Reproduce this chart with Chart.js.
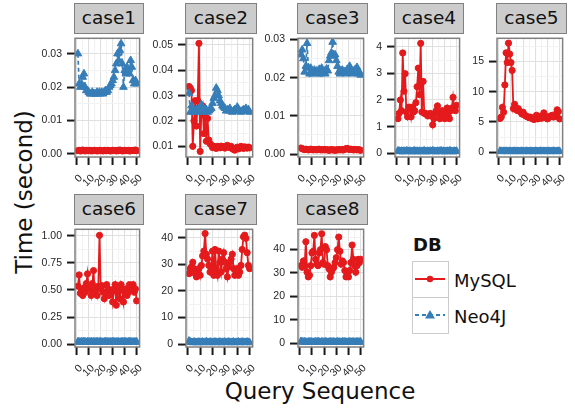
<!DOCTYPE html>
<html>
<head>
<meta charset="utf-8">
<script src="https://cdn.jsdelivr.net/npm/chart.js@4.4.1/dist/chart.umd.min.js"></script>
<style>
    body { margin: 0; width: 575px; height: 412px; position: relative; overflow: hidden; background: #fff; font-family: "DejaVu Sans", sans-serif; }
    canvas { position: absolute; }
    .strip { position: absolute; box-sizing: border-box; background: #cccccc; border: 1.5px solid #808080; text-align: center; font-size: 18.5px; color: #111; }
    .axis-title { position: absolute; font-size: 23px; color: #111; white-space: nowrap; transform: translate(-50%, -50%); }
    .legend-title { position: absolute; left: 413px; top: 234px; font-size: 18px; font-weight: bold; color: #111; }
    .legend-key { position: absolute; left: 412px; width: 37px; height: 37px; box-sizing: border-box; border: 1.5px solid #cccccc; background: #fff; }
    .legend-label { position: absolute; left: 454px; font-size: 18px; color: #111; transform: translateY(-50%); }
</style>
</head>
<body>
<div class="axis-title" style="left:24px; top:192px; transform: translate(-50%, -50%) rotate(-90deg);">Time (second)</div>
<div class="axis-title" style="left:320px; top:391px;">Query Sequence</div>

<div class="legend-title">DB</div>
<div class="legend-key" style="top:261px;">
    <svg width="34" height="34"><line x1="2" y1="17" x2="32" y2="17" stroke="#e41a1c" stroke-width="2"/><circle cx="17" cy="17" r="3.2" fill="#e41a1c"/></svg>
</div>
<div class="legend-key" style="top:297px;">
    <svg width="34" height="34"><line x1="2" y1="17" x2="32" y2="17" stroke="#377eb8" stroke-width="2" stroke-dasharray="4,3"/><polygon points="17,12 22,20.5 12,20.5" fill="#377eb8"/></svg>
</div>
<div class="legend-label" style="top:280px;">MySQL</div>
<div class="legend-label" style="top:316px;">Neo4J</div>

<script>
// Facets and series
const cases = ['case1', 'case2', 'case3', 'case4', 'case5', 'case6', 'case7', 'case8'];
const querySeq = [1, 2, 3, 4, 5, 6, 7, 8, 9, 10, 11, 12, 13, 14, 15, 16, 17, 18, 19, 20,
    21, 22, 23, 24, 25, 26, 27, 28, 29, 30, 31, 32, 33, 34, 35, 36, 37, 38, 39, 40,
    41, 42, 43, 44, 45, 46, 47, 48, 49, 50];

// MySQL times (seconds)
const mysqlCase1 = [0.0010, 0.0011, 0.0009, 0.0010, 0.0012, 0.0010, 0.0009, 0.0011, 0.0010, 0.0010,
    0.0011, 0.0009, 0.0010, 0.0010, 0.0011, 0.0010, 0.0009, 0.0010, 0.0011, 0.0010,
    0.0010, 0.0009, 0.0011, 0.0010, 0.0010, 0.0011, 0.0010, 0.0009, 0.0010, 0.0011,
    0.0010, 0.0010, 0.0009, 0.0011, 0.0010, 0.0012, 0.0010, 0.0009, 0.0010, 0.0011,
    0.0010, 0.0010, 0.0011, 0.0009, 0.0010, 0.0010, 0.0011, 0.0010, 0.0012, 0.0010];
const mysqlCase2 = [0.0336, 0.033, 0.032, 0.010, 0.020, 0.028, 0.018, 0.028, 0.0506, 0.008,
    0.024, 0.026, 0.015, 0.022, 0.012, 0.021, 0.0125, 0.011, 0.0105, 0.0095,
    0.010, 0.0098, 0.0092, 0.0100, 0.0097, 0.0094, 0.0101, 0.0096, 0.0099, 0.0093,
    0.0100, 0.0104, 0.0097, 0.0095, 0.0100, 0.0091, 0.0088, 0.0085, 0.0093, 0.0097,
    0.0090, 0.0094, 0.0100, 0.0096, 0.0092, 0.0098, 0.0095, 0.0093, 0.0097, 0.0094];
const mysqlCase3 = [0.0016, 0.0014, 0.0013, 0.0012, 0.0013, 0.0012, 0.0011, 0.0012, 0.0013, 0.0012,
    0.0011, 0.0012, 0.0012, 0.0011, 0.0012, 0.0013, 0.0011, 0.0012, 0.0011, 0.0012,
    0.0011, 0.0012, 0.0011, 0.0010, 0.0011, 0.0012, 0.0011, 0.0011, 0.0010, 0.0011,
    0.0011, 0.0012, 0.0011, 0.0012, 0.0011, 0.0011, 0.0013, 0.0014, 0.0015, 0.0013,
    0.0012, 0.0013, 0.0012, 0.0011, 0.0012, 0.0012, 0.0011, 0.0012, 0.0011, 0.0010];
const mysqlCase4 = [1.3, 1.5, 2.0, 1.6, 3.77, 2.33, 2.99, 1.55, 1.37, 1.73,
    1.73, 1.37, 1.73, 1.55, 1.6, 1.9, 2.5, 3.2, 2.2, 4.13,
    1.55, 2.7, 1.5, 1.5, 1.45, 1.4, 1.45, 1.5, 1.4, 1.07,
    1.3, 1.5, 1.6, 1.78, 1.5, 1.3, 1.5, 1.6, 1.4, 1.3,
    1.5, 1.7, 1.4, 1.3, 1.6, 1.7, 2.1, 1.7, 1.6, 1.8];
const mysqlCase5 = [5.56, 5.8, 7.4, 6.6, 11.1, 16.4, 14.8, 18.0, 16.2, 14.8,
    13.5, 7.2, 7.9, 7.2, 6.9, 7.2, 6.8, 6.6, 6.3, 6.6,
    6.2, 6.0, 5.9, 5.8, 5.7, 5.8, 5.6, 5.5, 5.4, 5.6,
    6.1, 5.5, 5.7, 5.9, 5.6, 5.8, 6.5, 6.0, 5.7, 5.5,
    5.7, 5.9, 6.0, 6.1, 5.8, 5.9, 6.3, 7.0, 6.7, 5.5];
const mysqlCase6 = [0.535, 0.64, 0.47, 0.49, 0.45, 0.52, 0.48, 0.56, 0.65, 0.51,
    0.51, 0.45, 0.56, 0.68, 0.48, 0.51, 0.45, 0.535, 1.006, 0.51,
    0.54, 0.48, 0.42, 0.48, 0.55, 0.51, 0.45, 0.5, 0.48, 0.39,
    0.51, 0.55, 0.36, 0.48, 0.5, 0.42, 0.55, 0.51, 0.39, 0.48,
    0.51, 0.45, 0.48, 0.55, 0.52, 0.5, 0.55, 0.48, 0.51, 0.4];
const mysqlCase7 = [26.5, 28.4, 29, 30.8, 28.4, 26.5, 25.3, 27.1, 28.4, 25.9,
    29.6, 33.2, 35, 41.6, 33.8, 32, 29.6, 27.1, 29, 35,
    25.9, 35.6, 28.4, 25.9, 35, 30.8, 27.1, 32, 34.4, 30.8,
    28.4, 25.3, 29, 30.8, 32, 33.8, 28.4, 25.9, 27.1, 28.4,
    25.9, 27.1, 29.6, 35.6, 40.4, 41, 39.8, 34.4, 29.6, 28.4];
const mysqlCase8 = [33.1, 32.4, 35.1, 33.1, 43.3, 30.3, 28.3, 29, 33.1, 38.5,
    39.2, 46, 35.8, 33.7, 33.1, 38.5, 39.9, 46.7, 34.4, 33.7,
    41.2, 39.9, 33.1, 31.7, 28.3, 30.3, 31.7, 32.4, 34.4, 36.5,
    39.9, 45.3, 39.2, 33.7, 35.1, 34.4, 31, 28.3, 29.7, 28.3,
    31, 34.4, 41.9, 35.8, 33.1, 30.3, 33.1, 35.8, 34.4, 35.8];

// Neo4J times (seconds)
const neoCase1 = [0.030, 0.021, 0.020, 0.021, 0.023, 0.024, 0.020, 0.019, 0.019, 0.0185,
    0.018, 0.018, 0.0185, 0.018, 0.018, 0.018, 0.0185, 0.018, 0.0185, 0.018,
    0.0185, 0.018, 0.0185, 0.019, 0.0185, 0.019, 0.020, 0.0205, 0.021, 0.022,
    0.023, 0.025, 0.027, 0.030, 0.028, 0.031, 0.033, 0.027, 0.020, 0.025,
    0.024, 0.026, 0.025, 0.024, 0.028, 0.026, 0.022, 0.021, 0.022, 0.021];
const neoCase2 = [0.031, 0.0235, 0.026, 0.024, 0.0235, 0.024, 0.0245, 0.0235, 0.024, 0.025,
    0.0265, 0.025, 0.0235, 0.024, 0.0245, 0.0235, 0.024, 0.0245, 0.025, 0.027,
    0.029, 0.030, 0.033, 0.032, 0.030, 0.028, 0.027, 0.026, 0.0255, 0.025,
    0.024, 0.0245, 0.024, 0.025, 0.024, 0.0235, 0.024, 0.0245, 0.024, 0.0255,
    0.0245, 0.024, 0.0235, 0.024, 0.0245, 0.024, 0.025, 0.024, 0.0245, 0.0235];
const neoCase3 = [0.026, 0.0273, 0.025, 0.0215, 0.023, 0.029, 0.0227, 0.021, 0.0225, 0.021,
    0.0215, 0.022, 0.0212, 0.0218, 0.021, 0.0222, 0.021, 0.0225, 0.0213, 0.0217,
    0.021, 0.0223, 0.0218, 0.0245, 0.0257, 0.0265, 0.0293, 0.0257, 0.026, 0.0245,
    0.023, 0.0215, 0.021, 0.0218, 0.022, 0.0212, 0.0216, 0.021, 0.0222, 0.0215,
    0.023, 0.0218, 0.021, 0.0215, 0.022, 0.0212, 0.0227, 0.021, 0.0215, 0.0207];
const neoCase4 = [0.09, 0.08, 0.07, 0.08, 0.06, 0.08, 0.07, 0.09, 0.08, 0.07,
    0.08, 0.06, 0.07, 0.08, 0.09, 0.07, 0.08, 0.06, 0.08, 0.07,
    0.07, 0.08, 0.09, 0.07, 0.06, 0.08, 0.07, 0.08, 0.07, 0.09,
    0.08, 0.07, 0.06, 0.08, 0.07, 0.08, 0.09, 0.07, 0.08, 0.06,
    0.07, 0.08, 0.07, 0.09, 0.08, 0.07, 0.06, 0.08, 0.07, 0.08];
const neoCase5 = [0.18, 0.15, 0.12, 0.16, 0.14, 0.17, 0.13, 0.15, 0.16, 0.12,
    0.14, 0.15, 0.17, 0.13, 0.16, 0.14, 0.12, 0.15, 0.16, 0.14,
    0.13, 0.15, 0.17, 0.14, 0.12, 0.16, 0.15, 0.13, 0.14, 0.16,
    0.15, 0.12, 0.14, 0.17, 0.15, 0.13, 0.16, 0.14, 0.15, 0.12,
    0.16, 0.14, 0.13, 0.15, 0.17, 0.14, 0.12, 0.15, 0.16, 0.14];
const neoCase6 = [0.022, 0.020, 0.018, 0.021, 0.019, 0.023, 0.020, 0.017, 0.021, 0.019,
    0.020, 0.022, 0.018, 0.021, 0.019, 0.020, 0.023, 0.018, 0.020, 0.021,
    0.019, 0.017, 0.020, 0.022, 0.019, 0.021, 0.018, 0.020, 0.019, 0.021,
    0.022, 0.018, 0.020, 0.019, 0.021, 0.017, 0.020, 0.022, 0.019, 0.020,
    0.021, 0.018, 0.020, 0.022, 0.019, 0.021, 0.018, 0.020, 0.019, 0.021];
const neoCase7 = [1.2, 0.8, 0.7, 0.6, 0.8, 0.7, 0.6, 0.7, 0.8, 0.6,
    0.7, 0.8, 0.6, 0.7, 0.9, 0.7, 0.6, 0.8, 0.7, 0.6,
    0.7, 0.8, 0.7, 0.6, 0.7, 0.8, 0.6, 0.7, 0.7, 0.8,
    0.6, 0.7, 0.8, 0.7, 0.6, 0.7, 0.8, 0.6, 0.7, 0.7,
    0.8, 0.6, 0.7, 0.8, 0.7, 0.6, 0.7, 0.8, 0.7, 0.6];
const neoCase8 = [0.8, 0.6, 0.5, 0.6, 0.5, 0.4, 0.6, 0.5, 0.6, 0.5,
    0.4, 0.5, 0.6, 0.5, 0.7, 0.5, 0.4, 0.6, 0.5, 0.5,
    0.6, 0.5, 0.4, 0.5, 0.6, 0.5, 0.5, 0.6, 0.4, 0.5,
    0.6, 0.5, 0.5, 0.4, 0.6, 0.5, 0.6, 0.5, 0.4, 0.5,
    0.6, 0.5, 0.5, 0.6, 0.4, 0.5, 0.6, 0.5, 0.5, 0.6];

const mysqlTimes = [mysqlCase1, mysqlCase2, mysqlCase3, mysqlCase4, mysqlCase5, mysqlCase6, mysqlCase7, mysqlCase8];
const neoTimes = [neoCase1, neoCase2, neoCase3, neoCase4, neoCase5, neoCase6, neoCase7, neoCase8];

// Axis ticks (free y scale per facet)
const xTicks = [0, 10, 20, 30, 40, 50];
const xTickLabels = ['0', '10', '20', '30', '40', '50'];
const xLimits = [-1.45, 52.45];
const yTicks = [
    [0, 0.01, 0.02, 0.03],
    [0.01, 0.02, 0.03, 0.04, 0.05],
    [0, 0.01, 0.02, 0.03],
    [0, 1, 2, 3, 4],
    [0, 5, 10, 15],
    [0, 0.25, 0.5, 0.75, 1.0],
    [0, 10, 20, 30, 40],
    [0, 10, 20, 30, 40]
];
const yTickLabels = [
    ['0.00', '0.01', '0.02', '0.03'],
    ['0.01', '0.02', '0.03', '0.04', '0.05'],
    ['0.00', '0.01', '0.02', '0.03'],
    ['0', '1', '2', '3', '4'],
    ['0', '5', '10', '15'],
    ['0.00', '0.25', '0.50', '0.75', '1.00'],
    ['0', '10', '20', '30', '40'],
    ['0', '10', '20', '30', '40']
];
const yLimits = [
    [-0.0009, 0.0346],
    [0.0058, 0.0526],
    [-0.00075, 0.0303],
    [-0.14, 4.32],
    [-0.79, 18.8],
    [-0.027, 1.062],
    [-1.08, 43.2],
    [-1.6, 48.6]
];

// Panel placement on the page
const panelBoxes = [
    { left: 75, top: 33, w: 68, h: 124 },
    { left: 186, top: 33, w: 70, h: 124 },
    { left: 298, top: 33, w: 69, h: 124 },
    { left: 395, top: 33, w: 68, h: 124 },
    { left: 497, top: 33, w: 69, h: 124 },
    { left: 75, top: 224, w: 68, h: 123 },
    { left: 186, top: 224, w: 70, h: 123 },
    { left: 298, top: 224, w: 69, h: 123 }
];

const RED = '#e41a1c';
const BLUE = '#377eb8';
const AXIS_W = 50;
const AXIS_H = 40;
const PAD_TOP = 6;
const PAD_RIGHT = 10;

// ggplot-like minor breaks: midpoints between majors (and one past each end if inside the range)
function withMinors(majors, lo, hi) {
    const step = majors[1] - majors[0];
    const all = [];
    const first = majors[0] - step / 2;
    if (first > lo) all.push({ value: first, major: false });
    majors.forEach((v, i) => {
        all.push({ value: v, major: true });
        if (i < majors.length - 1) all.push({ value: v + step / 2, major: false });
    });
    const last = majors[majors.length - 1] + step / 2;
    if (last < hi) all.push({ value: last, major: false });
    return all;
}

function isMajor(list, value) {
    return list.findIndex(v => Math.abs(v - value) < 1e-9);
}

const panelFrame = {
    id: 'panelFrame',
    afterDatasetsDraw(chart) {
        const a = chart.chartArea;
        const ctx = chart.ctx;
        ctx.save();
        ctx.strokeStyle = '#808080';
        ctx.lineWidth = 1.5;
        ctx.strokeRect(a.left, a.top, a.right - a.left, a.bottom - a.top);
        ctx.restore();
    }
};

function gridColor(list) {
    return (ctx) => (ctx.tick && isMajor(list, ctx.tick.value) >= 0) ? '#e0e0e0' : '#f2f2f2';
}
function tickMarkColor(list) {
    return (ctx) => (ctx.tick && isMajor(list, ctx.tick.value) >= 0) ? '#1a1a1a' : 'rgba(0,0,0,0)';
}

function drawPanel(i) {
    const box = panelBoxes[i];

    const strip = document.createElement('div');
    strip.className = 'strip';
    strip.textContent = cases[i];
    const stripTop = box.top - 30;
    strip.style.left = (box.left - 0.75) + 'px';
    strip.style.top = stripTop + 'px';
    strip.style.width = (box.w + 1.5) + 'px';
    strip.style.height = (box.top - stripTop + 0.75) + 'px';
    strip.style.lineHeight = (box.top - stripTop - 2) + 'px';
    document.body.appendChild(strip);

    const canvas = document.createElement('canvas');
    const cw = AXIS_W + box.w + PAD_RIGHT;
    const ch = PAD_TOP + box.h + AXIS_H;
    canvas.width = cw;
    canvas.height = ch;
    canvas.style.left = (box.left - AXIS_W) + 'px';
    canvas.style.top = (box.top - PAD_TOP) + 'px';
    canvas.style.width = cw + 'px';
    canvas.style.height = ch + 'px';
    document.body.appendChild(canvas);

    const yMajor = yTicks[i];
    const yAll = withMinors(yMajor, yLimits[i][0], yLimits[i][1]);
    const xAll = withMinors(xTicks, xLimits[0], xLimits[1]);

    new Chart(canvas.getContext('2d'), {
        type: 'line',
        data: {
            datasets: [{
                label: 'MySQL',
                data: querySeq.map((q, k) => ({ x: q, y: mysqlTimes[i][k] })),
                borderColor: RED,
                backgroundColor: RED,
                borderWidth: 1.8,
                pointStyle: 'circle',
                pointRadius: 3.1,
                pointBorderWidth: 1,
                tension: 0,
                order: 2
            }, {
                label: 'Neo4J',
                data: querySeq.map((q, k) => ({ x: q, y: neoTimes[i][k] })),
                borderColor: BLUE,
                backgroundColor: BLUE,
                borderWidth: 1.7,
                borderDash: [4, 3],
                pointStyle: 'triangle',
                pointRadius: 4.4,
                pointBorderWidth: 1,
                tension: 0,
                order: 1
            }]
        },
        options: {
            responsive: false,
            animation: false,
            events: [],
            layout: { padding: { top: PAD_TOP, right: PAD_RIGHT, left: 0, bottom: 0 } },
            plugins: { legend: { display: false }, tooltip: { enabled: false } },
            scales: {
                x: {
                    type: 'linear',
                    min: xLimits[0],
                    max: xLimits[1],
                    afterBuildTicks: (scale) => { scale.ticks = xAll.map(t => ({ value: t.value })); },
                    afterFit: (scale) => { scale.height = AXIS_H; },
                    border: { display: false },
                    grid: {
                        color: gridColor(xTicks),
                        lineWidth: 1.1,
                        drawTicks: true,
                        tickLength: 8,
                        tickWidth: 2,
                        tickColor: tickMarkColor(xTicks)
                    },
                    ticks: {
                        autoSkip: false,
                        minRotation: 45,
                        maxRotation: 45,
                        padding: 7,
                        labelOffset: 4,
                        color: '#262626',
                        font: { family: 'Liberation Sans', size: 10.5 },
                        callback: (value) => {
                            const k = isMajor(xTicks, value);
                            return k >= 0 ? xTickLabels[k] : '';
                        }
                    }
                },
                y: {
                    type: 'linear',
                    min: yLimits[i][0],
                    max: yLimits[i][1],
                    afterBuildTicks: (scale) => { scale.ticks = yAll.map(t => ({ value: t.value })); },
                    afterFit: (scale) => { scale.width = AXIS_W; },
                    border: { display: false },
                    grid: {
                        color: gridColor(yMajor),
                        lineWidth: 1.1,
                        drawTicks: true,
                        tickLength: 8,
                        tickWidth: 2,
                        tickColor: tickMarkColor(yMajor)
                    },
                    ticks: {
                        autoSkip: false,
                        padding: 5,
                        color: '#262626',
                        font: { family: 'Liberation Sans', size: 10.5 },
                        callback: (value) => {
                            const k = isMajor(yMajor, value);
                            return k >= 0 ? yTickLabels[i][k] : '';
                        }
                    }
                }
            }
        },
        plugins: [panelFrame]
    });
}

cases.forEach((c, i) => drawPanel(i));
</script>
</body>
</html>
